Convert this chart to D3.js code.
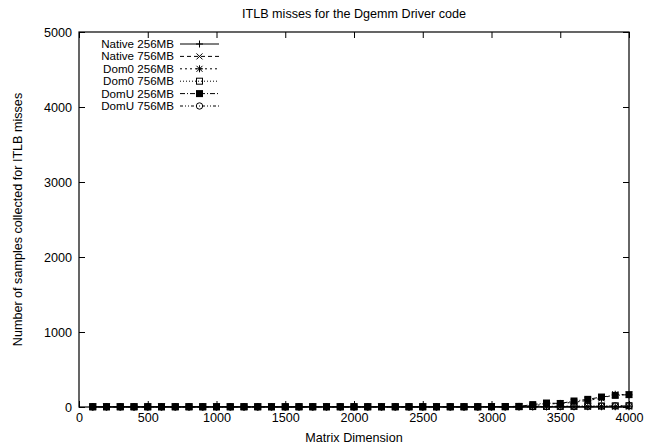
<!DOCTYPE html>
<html>
<head>
<meta charset="utf-8">
<script src="https://cdn.jsdelivr.net/npm/d3@7.9.0/dist/d3.min.js"></script>
<style>
  html, body { margin: 0; padding: 0; background: #fff; }
  svg { display: block; font-family: "Liberation Sans", Arial, sans-serif; }
</style>
</head>
<body>
<svg id="chart" width="655" height="447"></svg>
<script>
// ---- data ----
const matrixDims = [100, 200, 300, 400, 500, 600, 700, 800, 900, 1000,
  1100, 1200, 1300, 1400, 1500, 1600, 1700, 1800, 1900, 2000,
  2100, 2200, 2300, 2400, 2500, 2600, 2700, 2800, 2900, 3000,
  3100, 3200, 3300, 3400, 3500, 3600, 3700, 3800, 3900, 4000];

const native256 = [1, 1, 1, 1, 1, 1, 1, 1, 1, 1, 1, 1, 1, 1, 1, 1, 1, 1, 1, 1,
  1, 1, 1, 1, 1, 1, 1, 1, 1, 1, 1, 1, 2, 2, 2, 2, 3, 3, 3, 3];
const native756 = [1, 1, 1, 1, 1, 1, 1, 1, 1, 1, 1, 1, 1, 1, 1, 1, 1, 1, 1, 1,
  1, 1, 1, 1, 1, 1, 1, 1, 1, 1, 1, 2, 2, 2, 3, 3, 3, 4, 4, 4];
const dom0_256 = [3, 3, 3, 3, 3, 3, 3, 3, 3, 3, 3, 3, 3, 3, 3, 3, 3, 3, 3, 3,
  3, 3, 3, 3, 3, 3, 3, 3, 4, 5, 6, 8, 18, 38, 48, 62, 88, 115, 170, 162];
const dom0_756 = [2, 2, 2, 2, 2, 2, 2, 2, 2, 2, 2, 2, 2, 2, 2, 2, 2, 2, 2, 2,
  2, 2, 2, 2, 2, 2, 2, 2, 2, 3, 3, 4, 6, 8, 9, 10, 12, 14, 16, 18];
const domU_256 = [4, 4, 4, 4, 4, 4, 4, 4, 4, 4, 4, 4, 4, 4, 4, 4, 4, 4, 4, 4,
  4, 4, 4, 4, 4, 4, 4, 4, 4, 5, 6, 8, 32, 53, 47, 80, 102, 133, 155, 165];
const domU_756 = [2, 2, 2, 2, 2, 2, 2, 2, 2, 2, 2, 2, 2, 2, 2, 2, 2, 2, 2, 2,
  2, 2, 2, 2, 2, 2, 2, 2, 2, 3, 3, 4, 5, 7, 8, 9, 11, 12, 14, 15];

const seriesNames = ['Native 256MB', 'Native 756MB', 'Dom0 256MB', 'Dom0 756MB', 'DomU 256MB', 'DomU 756MB'];
const seriesValues = [native256, native756, dom0_256, dom0_756, domU_256, domU_756];
const seriesMarkers = ['plus', 'cross', 'star', 'square', 'filledSquare', 'circle'];
const seriesDashes = [null, '4,3', '2,3', '1,2', '5,2,1,2', '3,2,1,2,1,2'];

const xTicks = [0, 500, 1000, 1500, 2000, 2500, 3000, 3500, 4000];
const yTicks = [0, 1000, 2000, 3000, 4000, 5000];

// ---- layout ----
const svg = d3.select('#chart');
const plotLeft = 79, plotRight = 629, plotTop = 32, plotBottom = 407;
const fontSize = 12.6;
const legendFont = 11.6;

const x = d3.scaleLinear().domain([0, 4000]).range([plotLeft, plotRight]);
const y = d3.scaleLinear().domain([0, 5000]).range([plotBottom, plotTop]);

// ---- border + ticks (gnuplot style, inward, mirrored) ----
const tickLen = 6;
const fmt = d3.format('d');
const axisG = svg.append('g');

axisG.append('g')
  .attr('transform', `translate(0,${plotBottom})`)
  .call(d3.axisBottom(x).tickValues(xTicks).tickFormat(fmt).tickSizeInner(-tickLen).tickSizeOuter(0).tickPadding(6))
  .call(g => g.select('.domain').remove());
axisG.append('g')
  .attr('transform', `translate(0,${plotTop})`)
  .call(d3.axisTop(x).tickValues(xTicks).tickSizeInner(-tickLen).tickSizeOuter(0).tickFormat(''))
  .call(g => g.select('.domain').remove());
axisG.append('g')
  .attr('transform', `translate(${plotLeft},0)`)
  .call(d3.axisLeft(y).tickValues(yTicks).tickFormat(fmt).tickSizeInner(-tickLen).tickSizeOuter(0).tickPadding(7))
  .call(g => g.select('.domain').remove());
axisG.append('g')
  .attr('transform', `translate(${plotRight},0)`)
  .call(d3.axisRight(y).tickValues(yTicks).tickSizeInner(-tickLen).tickSizeOuter(0).tickFormat(''))
  .call(g => g.select('.domain').remove());

axisG.selectAll('.tick line').attr('stroke', '#000');
axisG.selectAll('.tick text')
  .attr('fill', '#000')
  .attr('font-size', fontSize)
  .attr('font-family', '"Liberation Sans", Arial, sans-serif');

svg.append('rect')
  .attr('x', plotLeft).attr('y', plotTop)
  .attr('width', plotRight - plotLeft).attr('height', plotBottom - plotTop)
  .attr('fill', 'none').attr('stroke', '#000').attr('stroke-width', 1.2);

// ---- marker drawing ----
function drawMarker(g, type, cx, cy) {
  const s = 3.5;
  if (type === 'plus') {
    g.append('path').attr('d', `M${cx - s},${cy}H${cx + s}M${cx},${cy - s}V${cy + s}`)
      .attr('stroke', '#000').attr('fill', 'none');
  } else if (type === 'cross') {
    g.append('path').attr('d', `M${cx - 3},${cy - 3}L${cx + 3},${cy + 3}M${cx - 3},${cy + 3}L${cx + 3},${cy - 3}`)
      .attr('stroke', '#000').attr('fill', 'none');
  } else if (type === 'star') {
    g.append('path').attr('d', `M${cx - s},${cy}H${cx + s}M${cx},${cy - s}V${cy + s}` +
      `M${cx - 3},${cy - 3}L${cx + 3},${cy + 3}M${cx - 3},${cy + 3}L${cx + 3},${cy - 3}`)
      .attr('stroke', '#000').attr('fill', 'none');
  } else if (type === 'square') {
    g.append('rect').attr('x', cx - 3).attr('y', cy - 3).attr('width', 6).attr('height', 6)
      .attr('stroke', '#000').attr('fill', 'none');
  } else if (type === 'filledSquare') {
    g.append('rect').attr('x', cx - 3.5).attr('y', cy - 3.5).attr('width', 7).attr('height', 7)
      .attr('fill', '#000');
  } else if (type === 'circle') {
    g.append('circle').attr('cx', cx).attr('cy', cy).attr('r', 3.2)
      .attr('stroke', '#000').attr('fill', 'none');
  }
}

// ---- series ----
const line = d3.line()
  .x((d, i) => x(matrixDims[i]))
  .y(d => y(d));

seriesValues.forEach((vals, si) => {
  const g = svg.append('g');
  g.append('path')
    .datum(vals)
    .attr('d', line)
    .attr('fill', 'none')
    .attr('stroke', '#000')
    .attr('stroke-width', 1)
    .attr('stroke-dasharray', seriesDashes[si]);
  vals.forEach((v, i) => drawMarker(g, seriesMarkers[si], x(matrixDims[i]), y(v)));
});

// ---- legend ----
const legend = svg.append('g');
seriesNames.forEach((name, i) => {
  const ly = 44 + i * 12.4;
  legend.append('text')
    .attr('x', 174).attr('y', ly).attr('dy', '0.35em')
    .attr('text-anchor', 'end').attr('font-size', legendFont)
    .text(name);
  legend.append('line')
    .attr('x1', 180).attr('x2', 219).attr('y1', ly).attr('y2', ly)
    .attr('stroke', '#000').attr('stroke-dasharray', seriesDashes[i]);
  drawMarker(legend, seriesMarkers[i], 199.5, ly);
});

// ---- titles ----
svg.append('text')
  .attr('x', (plotLeft + plotRight) / 2).attr('y', 18)
  .attr('text-anchor', 'middle').attr('font-size', fontSize)
  .text('ITLB misses for the Dgemm Driver code');
svg.append('text')
  .attr('x', (plotLeft + plotRight) / 2).attr('y', 442)
  .attr('text-anchor', 'middle').attr('font-size', fontSize)
  .text('Matrix Dimension');
svg.append('text')
  .attr('transform', `translate(22,${(plotTop + plotBottom) / 2}) rotate(-90)`)
  .attr('text-anchor', 'middle').attr('font-size', fontSize)
  .text('Number of samples collected for ITLB misses');
</script>
</body>
</html>
